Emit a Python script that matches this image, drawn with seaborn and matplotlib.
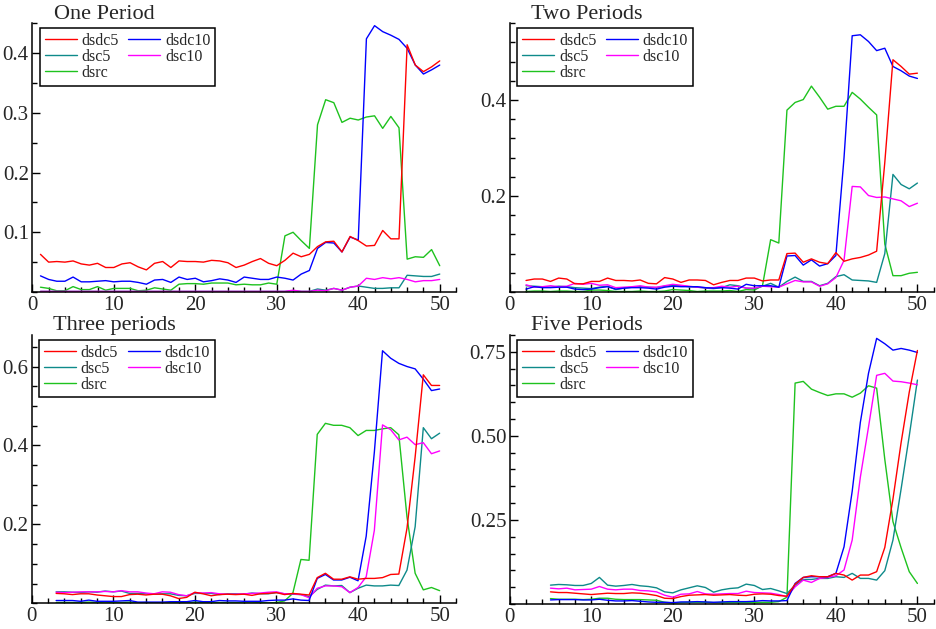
import pandas as pd
import seaborn as sns
import matplotlib
matplotlib.use("Agg")
import matplotlib.pyplot as plt
from matplotlib.ticker import FixedLocator, MultipleLocator, FormatStrFormatter

# ---------------------------------------------------------------- data
series_names = ["dsdc5", "dsdc10", "dsc5", "dsc10", "dsrc"]
series_colors = ["#ff0000", "#0000ff", "#0e8a8a", "#ff00ff", "#1ec21e"]

# One Period (x = 1..50)
p1_x = list(range(1, 51))
p1_dsdc5 = [0.063, 0.050, 0.051, 0.050, 0.052, 0.047, 0.045, 0.048, 0.041, 0.041,
            0.047, 0.049, 0.042, 0.037, 0.048, 0.051, 0.041, 0.052, 0.051, 0.051,
            0.050, 0.053, 0.052, 0.049, 0.041, 0.045, 0.051, 0.056, 0.048, 0.044,
            0.053, 0.065, 0.059, 0.063, 0.076, 0.084, 0.085, 0.067, 0.093, 0.086,
            0.077, 0.078, 0.103, 0.089, 0.089, 0.414, 0.380, 0.369, 0.377, 0.387]
p1_dsdc10 = [0.027, 0.021, 0.018, 0.018, 0.025, 0.017, 0.017, 0.018, 0.019, 0.017,
             0.018, 0.018, 0.016, 0.013, 0.020, 0.021, 0.016, 0.025, 0.021, 0.023,
             0.017, 0.019, 0.022, 0.020, 0.016, 0.025, 0.023, 0.021, 0.021, 0.025,
             0.023, 0.020, 0.030, 0.036, 0.073, 0.083, 0.082, 0.067, 0.092, 0.087,
             0.424, 0.446, 0.436, 0.430, 0.423, 0.408, 0.380, 0.365, 0.372, 0.380]
p1_dsc5 = [0.001, 0.001, 0.001, 0.001, 0.001, 0.001, 0.001, 0.001, 0.001, 0.001,
           0.001, 0.001, 0.001, 0.001, 0.001, 0.001, 0.001, 0.001, 0.001, 0.001,
           0.001, 0.001, 0.001, 0.001, 0.001, 0.001, 0.001, 0.001, 0.001, 0.001,
           0.001, 0.002, 0.001, 0.001, 0.005, 0.003, 0.006, 0.003, 0.008, 0.010,
           0.008, 0.006, 0.006, 0.007, 0.007, 0.028, 0.027, 0.026, 0.026, 0.030]
p1_dsc10 = [0.001, 0.001, 0.001, 0.001, 0.001, 0.001, 0.001, 0.001, 0.001, 0.001,
            0.001, 0.001, 0.001, 0.001, 0.001, 0.001, 0.001, 0.001, 0.001, 0.001,
            0.001, 0.001, 0.001, 0.001, 0.001, 0.001, 0.001, 0.001, 0.001, 0.001,
            0.001, 0.003, 0.001, 0.001, 0.003, 0.002, 0.006, 0.003, 0.008, 0.010,
            0.023, 0.021, 0.024, 0.022, 0.024, 0.021, 0.017, 0.019, 0.019, 0.021]
p1_dsrc = [0.008, 0.006, 0.002, 0.002, 0.009, 0.004, 0.004, 0.009, 0.003, 0.006,
           0.006, 0.006, 0.002, 0.003, 0.007, 0.005, 0.003, 0.013, 0.014, 0.014,
           0.013, 0.015, 0.015, 0.015, 0.012, 0.013, 0.012, 0.012, 0.015, 0.013,
           0.094, 0.100, 0.086, 0.073, 0.280, 0.322, 0.317, 0.284, 0.291, 0.288,
           0.293, 0.295, 0.274, 0.294, 0.275, 0.055, 0.059, 0.058, 0.071, 0.044]

# Two Periods (x = 2..50)
p2_x = list(range(2, 51))
p2_dsdc5 = [0.024, 0.027, 0.027, 0.022, 0.029, 0.027, 0.017, 0.017, 0.022,
            0.022, 0.029, 0.024, 0.024, 0.023, 0.025, 0.018, 0.017, 0.030, 0.027,
            0.020, 0.025, 0.025, 0.024, 0.015, 0.020, 0.024, 0.024, 0.029, 0.029,
            0.023, 0.025, 0.025, 0.080, 0.081, 0.062, 0.069, 0.062, 0.059, 0.082,
            0.064, 0.069, 0.072, 0.077, 0.085, 0.270, 0.484, 0.470, 0.454, 0.456]
p2_dsdc10 = [0.006, 0.011, 0.009, 0.009, 0.010, 0.010, 0.006, 0.005, 0.006,
             0.009, 0.011, 0.006, 0.008, 0.009, 0.009, 0.008, 0.006, 0.010, 0.012,
             0.011, 0.011, 0.011, 0.009, 0.008, 0.009, 0.008, 0.006, 0.016, 0.013,
             0.013, 0.013, 0.010, 0.075, 0.076, 0.056, 0.067, 0.054, 0.059, 0.076,
             0.280, 0.534, 0.536, 0.522, 0.503, 0.508, 0.470, 0.461, 0.450, 0.445]
p2_dsc5 = [0.013, 0.012, 0.011, 0.010, 0.012, 0.011, 0.009, 0.008, 0.007,
           0.010, 0.012, 0.005, 0.008, 0.010, 0.011, 0.010, 0.009, 0.012, 0.014,
           0.013, 0.011, 0.010, 0.008, 0.007, 0.009, 0.015, 0.013, 0.008, 0.007,
           0.012, 0.018, 0.010, 0.022, 0.031, 0.022, 0.022, 0.013, 0.018, 0.032,
           0.036, 0.025, 0.024, 0.023, 0.020, 0.080, 0.245, 0.224, 0.215, 0.227]
p2_dsc10 = [0.015, 0.010, 0.011, 0.013, 0.011, 0.012, 0.018, 0.016, 0.018,
            0.014, 0.015, 0.009, 0.010, 0.011, 0.013, 0.010, 0.010, 0.013, 0.016,
            0.014, 0.012, 0.010, 0.009, 0.009, 0.012, 0.010, 0.012, 0.008, 0.008,
            0.012, 0.011, 0.010, 0.017, 0.024, 0.021, 0.021, 0.012, 0.017, 0.030,
            0.066, 0.220, 0.219, 0.201, 0.197, 0.198, 0.194, 0.190, 0.178, 0.185]
p2_dsrc = [0.001, 0.002, 0.002, 0.001, 0.002, 0.002, 0.001, 0.001, 0.004,
           0.004, 0.003, 0.001, 0.001, 0.001, 0.002, 0.001, 0.001, 0.002, 0.005,
           0.004, 0.003, 0.001, 0.002, 0.002, 0.002, 0.003, 0.001, 0.005, 0.004,
           0.013, 0.109, 0.102, 0.379, 0.395, 0.401, 0.429, 0.406, 0.381, 0.387,
           0.387, 0.416, 0.402, 0.385, 0.369, 0.100, 0.034, 0.034, 0.039, 0.041]

# Three periods (x = 3..50)
p3_x = list(range(3, 51))
p3_dsdc5 = [0.025, 0.024, 0.022, 0.024, 0.024, 0.021, 0.019, 0.017,
            0.017, 0.022, 0.023, 0.021, 0.023, 0.023, 0.019, 0.012, 0.015, 0.028,
            0.024, 0.019, 0.022, 0.023, 0.022, 0.023, 0.020, 0.024, 0.025, 0.027,
            0.022, 0.025, 0.023, 0.021, 0.065, 0.076, 0.061, 0.061, 0.067, 0.061,
            0.063, 0.063, 0.065, 0.073, 0.074, 0.190, 0.371, 0.579, 0.552, 0.552]
p3_dsdc10 = [0.007, 0.007, 0.007, 0.005, 0.008, 0.005, 0.005, 0.005,
             0.006, 0.007, 0.003, 0.003, 0.003, 0.003, 0.004, 0.004, 0.004, 0.007,
             0.004, 0.004, 0.007, 0.006, 0.006, 0.005, 0.005, 0.005, 0.007, 0.008,
             0.008, 0.011, 0.008, 0.007, 0.063, 0.073, 0.059, 0.059, 0.066, 0.057,
             0.170, 0.383, 0.640, 0.621, 0.608, 0.600, 0.594, 0.568, 0.539, 0.543]
p3_dsc5 = [0.029, 0.029, 0.028, 0.027, 0.029, 0.028, 0.031, 0.029,
           0.031, 0.025, 0.025, 0.024, 0.023, 0.024, 0.024, 0.020, 0.019, 0.025,
           0.025, 0.025, 0.022, 0.024, 0.024, 0.023, 0.026, 0.024, 0.024, 0.027,
           0.024, 0.023, 0.022, 0.017, 0.035, 0.046, 0.044, 0.045, 0.027, 0.038,
           0.046, 0.044, 0.044, 0.046, 0.045, 0.084, 0.194, 0.445, 0.417, 0.431]
p3_dsc10 = [0.028, 0.027, 0.028, 0.029, 0.029, 0.029, 0.030, 0.029,
            0.032, 0.029, 0.029, 0.026, 0.024, 0.029, 0.028, 0.022, 0.019, 0.027,
            0.026, 0.027, 0.024, 0.023, 0.023, 0.024, 0.025, 0.026, 0.028, 0.029,
            0.024, 0.024, 0.022, 0.014, 0.038, 0.044, 0.044, 0.042, 0.027, 0.040,
            0.067, 0.185, 0.452, 0.440, 0.414, 0.421, 0.402, 0.407, 0.379, 0.386]
p3_dsrc = [0.002, 0.002, 0.002, 0.002, 0.003, 0.002, 0.003, 0.002,
           0.002, 0.003, 0.001, 0.002, 0.001, 0.001, 0.001, 0.002, 0.001, 0.003,
           0.002, 0.001, 0.002, 0.002, 0.002, 0.001, 0.001, 0.002, 0.001, 0.002,
           0.006, 0.025, 0.111, 0.109, 0.428, 0.456, 0.451, 0.451, 0.445, 0.425,
           0.438, 0.438, 0.442, 0.445, 0.427, 0.219, 0.076, 0.034, 0.040, 0.032]

# Five Periods (x = 5..50)
p4_x = list(range(5, 51))
p4_dsdc5 = [0.036, 0.034, 0.034, 0.032, 0.030, 0.028,
            0.030, 0.032, 0.031, 0.031, 0.033, 0.032, 0.029, 0.025, 0.017, 0.016,
            0.022, 0.026, 0.027, 0.028, 0.026, 0.027, 0.028, 0.026, 0.025, 0.029,
            0.030, 0.029, 0.025, 0.023, 0.059, 0.079, 0.084, 0.081, 0.081, 0.091,
            0.086, 0.071, 0.086, 0.086, 0.096, 0.168, 0.312, 0.480, 0.630, 0.754]
p4_dsdc10 = [0.012, 0.013, 0.013, 0.013, 0.012, 0.012,
             0.014, 0.011, 0.009, 0.009, 0.010, 0.008, 0.006, 0.005, 0.005, 0.004,
             0.006, 0.006, 0.007, 0.006, 0.005, 0.006, 0.007, 0.007, 0.007, 0.008,
             0.010, 0.009, 0.009, 0.010, 0.061, 0.079, 0.081, 0.081, 0.081, 0.091,
             0.170, 0.335, 0.540, 0.686, 0.790, 0.774, 0.755, 0.760, 0.755, 0.748]
p4_dsc5 = [0.056, 0.058, 0.057, 0.055, 0.055, 0.061,
           0.079, 0.056, 0.053, 0.055, 0.058, 0.054, 0.052, 0.048, 0.036, 0.033,
           0.042, 0.048, 0.054, 0.049, 0.035, 0.042, 0.046, 0.048, 0.059, 0.055,
           0.043, 0.046, 0.039, 0.031, 0.056, 0.073, 0.073, 0.076, 0.076, 0.081,
           0.079, 0.091, 0.076, 0.076, 0.071, 0.099, 0.190, 0.342, 0.500, 0.666]
p4_dsc10 = [0.047, 0.045, 0.047, 0.042, 0.043, 0.044,
            0.052, 0.044, 0.042, 0.044, 0.044, 0.040, 0.039, 0.036, 0.026, 0.020,
            0.029, 0.030, 0.037, 0.030, 0.029, 0.030, 0.031, 0.031, 0.038, 0.034,
            0.033, 0.032, 0.028, 0.022, 0.051, 0.071, 0.064, 0.076, 0.079, 0.084,
            0.101, 0.190, 0.377, 0.526, 0.680, 0.686, 0.663, 0.661, 0.657, 0.652]
p4_dsrc = [0.016, 0.014, 0.014, 0.014, 0.013, 0.014,
           0.017, 0.017, 0.014, 0.013, 0.013, 0.013, 0.012, 0.011, 0.005, 0.003,
           0.004, 0.005, 0.005, 0.005, 0.004, 0.004, 0.004, 0.004, 0.004, 0.004,
           0.005, 0.005, 0.007, 0.020, 0.657, 0.662, 0.639, 0.629, 0.620, 0.625,
           0.625, 0.615, 0.627, 0.649, 0.642, 0.430, 0.245, 0.167, 0.096, 0.061]

panel_titles = ["One Period", "Two Periods", "Three periods", "Five Periods"]
x_tick_labels = [0, 10, 20, 30, 40, 50]
y_tick_values = [[0.1, 0.2, 0.3, 0.4], [0.2, 0.4], [0.2, 0.4, 0.6], [0.25, 0.50, 0.75]]
y_limits = [0.45, 0.56, 0.68, 0.80]
y_minor_steps = [0.05, 0.04, 0.05, 0.05]
y_formats = ["%.1f", "%.1f", "%.1f", "%.2f"]

panels = [
    (p1_x, [p1_dsdc5, p1_dsdc10, p1_dsc5, p1_dsc10, p1_dsrc]),
    (p2_x, [p2_dsdc5, p2_dsdc10, p2_dsc5, p2_dsc10, p2_dsrc]),
    (p3_x, [p3_dsdc5, p3_dsdc10, p3_dsc5, p3_dsc10, p3_dsrc]),
    (p4_x, [p4_dsdc5, p4_dsdc10, p4_dsc5, p4_dsc10, p4_dsrc]),
]

# ---------------------------------------------------------------- style
sns.set_style("ticks")
plt.rcParams["font.family"] = ["Liberation Serif", "DejaVu Serif"]
plt.rcParams["axes.linewidth"] = 1.1

fig = plt.figure(figsize=(9.37, 6.29), dpi=100)
axes_rects = [
    [0.0345, 0.5358, 0.4522, 0.4272],
    [0.5440, 0.5358, 0.4525, 0.4272],
    [0.0338, 0.0409, 0.4528, 0.4266],
    [0.5440, 0.0398, 0.4525, 0.4276],
]
palette = dict(zip(series_names, series_colors))
legend_order = ["dsdc5", "dsc5", "dsrc", "dsdc10", "dsc10"]

for i, (xs, ys) in enumerate(panels):
    ax = fig.add_axes(axes_rects[i])
    frames = []
    for name, vals in zip(series_names, ys):
        frames.append(pd.DataFrame({"x": xs, "value": vals, "series": name}))
    df = pd.concat(frames, ignore_index=True)

    sns.lineplot(data=df, x="x", y="value", hue="series",
                 hue_order=["dsrc", "dsc5", "dsc10", "dsdc10", "dsdc5"],
                 palette=palette, linewidth=1.0, estimator=None,
                 errorbar=None, ax=ax)

    ax.set_xlim(0, 52)
    ax.set_ylim(0, y_limits[i])
    ax.set_xlabel("")
    ax.set_ylabel("")

    ax.xaxis.set_major_locator(FixedLocator(x_tick_labels))
    ax.xaxis.set_minor_locator(MultipleLocator(2))
    ax.xaxis.set_major_formatter(FormatStrFormatter("%d"))
    ax.yaxis.set_major_locator(FixedLocator(y_tick_values[i]))
    ax.yaxis.set_minor_locator(MultipleLocator(y_minor_steps[i]))
    ax.yaxis.set_major_formatter(FormatStrFormatter(y_formats[i]))

    ax.tick_params(which="major", direction="in", length=6, width=1.0,
                   labelsize=15, pad=3, color="black")
    ax.tick_params(which="minor", direction="in", length=3.5, width=1.0,
                   color="black")
    ax.tick_params(axis="y", which="major", pad=2.5)

    sns.despine(ax=ax)
    for side in ("left", "bottom"):
        ax.spines[side].set_color("black")
        ax.spines[side].set_linewidth(1.1)

    ax.text(0.05, 1.017, panel_titles[i], transform=ax.transAxes,
            ha="left", va="baseline", fontsize=16)

    handles, labels = ax.get_legend_handles_labels()
    lookup = dict(zip(labels, handles))
    leg = ax.legend([lookup[n] for n in legend_order], legend_order,
                    ncol=2, loc="upper left", bbox_to_anchor=(0.018, 0.982),
                    borderaxespad=0, frameon=True, fancybox=False,
                    edgecolor="black", framealpha=1, fontsize=11.5,
                    handlelength=2.0, handletextpad=0.3,
                    columnspacing=0.6, labelspacing=0.0, borderpad=0.3)
    leg.get_frame().set_linewidth(1.1)

fig.savefig("out.png", dpi=100)
